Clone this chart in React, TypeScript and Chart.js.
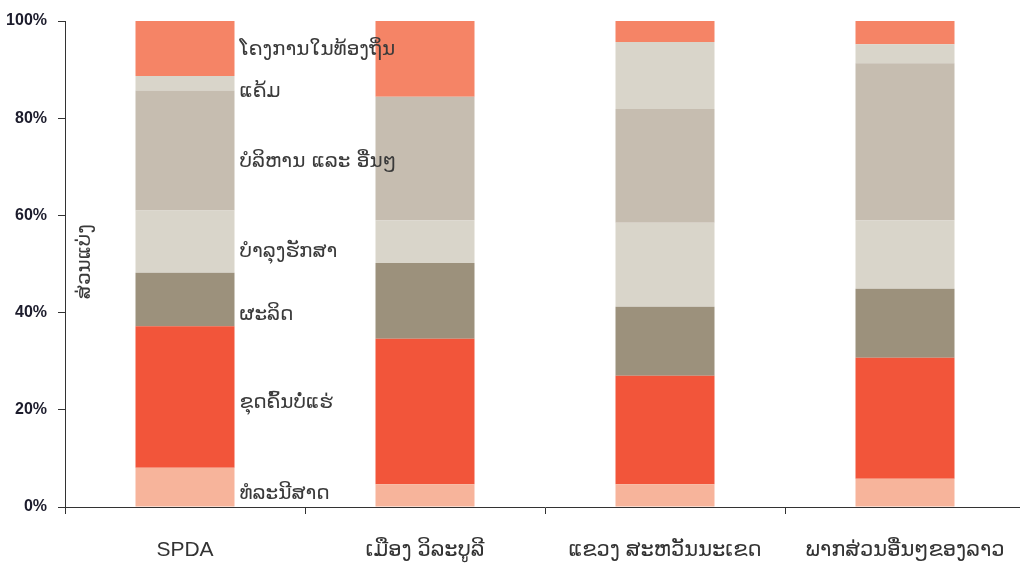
import React, { useEffect, useRef } from "react";
import { Chart, registerables } from "chart.js";

Chart.register(...registerables);

const categories = ["SPDA", "ເມືອງ ວິລະບູລີ", "ແຂວງ ສະຫວັນນະເຂດ", "ພາກສ່ວນອື່ນໆຂອງລາວ"];

const seriesNames = [
  "ທໍລະນີສາດ",
  "ຂຸດຄົ້ນບໍ່ແຮ່",
  "ຜະລິດ",
  "ບຳລຸງຮັກສາ",
  "ບໍລິຫານ ແລະ ອື່ນໆ",
  "ແຄ້ມ",
  "ໂຄງການໃນທ້ອງຖິ່ນ",
];

const geology = [8.1, 4.7, 4.7, 5.8];
const mining = [29.1, 29.9, 22.3, 24.9];
const production = [11.0, 15.6, 14.2, 14.2];
const maintenance = [12.8, 8.8, 17.3, 14.1];
const admin = [24.7, 25.4, 23.4, 32.3];
const camp = [3.0, 0, 13.8, 3.9];
const community = [11.3, 15.6, 4.3, 4.8];

const seriesValues = [geology, mining, production, maintenance, admin, camp, community];
const seriesColors = ["#f7b49b", "#f2553a", "#9c917c", "#d9d5ca", "#c6bdb0", "#d9d5ca", "#f58466"];

// label anchor heights (in % units) for the in-chart series labels next to first bar
const labelLevels = [2.7, 21.4, 39.5, 52.5, 71.0, 85.4, 94.0];

const yTicks = [0, 20, 40, 60, 80, 100];
const yTitle = "ສ່ວນແບ່ງ";

const labelPlugin = {
  id: "seriesLabels",
  afterDatasetsDraw(chart: any) {
    const ctx = chart.ctx;
    const yScale = chart.scales.y;
    ctx.save();
    ctx.fillStyle = "#3a3a3a";
    ctx.font = '20px "DejaVu Sans", sans-serif';
    ctx.textAlign = "left";
    ctx.textBaseline = "middle";
    seriesNames.forEach((name, i) => {
      const bar = chart.getDatasetMeta(i).data[0] as any;
      const x = bar.x + bar.width / 2 + 5;
      const y = yScale.getPixelForValue(labelLevels[i]);
      ctx.fillText(name, x, y);
    });
    // y axis title (inside plot area)
    const cx = chart.chartArea.left + 20;
    const cy = yScale.getPixelForValue(50.5);
    ctx.translate(cx, cy);
    ctx.rotate(-Math.PI / 2);
    ctx.textAlign = "center";
    ctx.font = '20px "DejaVu Sans", sans-serif';
    ctx.fillText(yTitle, 0, 0);
    ctx.restore();
  },
};

export default function App() {
  const ref = useRef<HTMLCanvasElement>(null);
  useEffect(() => {
    if (!ref.current) return;
    const chart = new Chart(ref.current, {
      type: "bar",
      data: {
        labels: categories,
        datasets: seriesNames.map((n, i) => ({
          label: n,
          data: seriesValues[i],
          backgroundColor: seriesColors[i],
          borderWidth: 0,
          barPercentage: 0.4125,
          categoryPercentage: 1,
        })),
      },
      options: {
        responsive: false,
        animation: false,
        devicePixelRatio: 1,
        layout: { padding: { top: 21, right: 5, bottom: 0, left: 0 } },
        plugins: {
          legend: { display: false },
          tooltip: { enabled: false },
          title: { display: false },
        },
        scales: {
          x: {
            stacked: true,
            afterFit: (s: any) => {
              s.height = 58;
            },
            grid: {
              display: true,
              drawOnChartArea: false,
              drawTicks: true,
              tickLength: 7,
              color: "#333333",
              offset: true,
            },
            border: { display: true, color: "#333333", width: 1 },
            ticks: {
              color: "#333333",
              padding: 24,
              font: { family: '"Liberation Sans", "DejaVu Sans", sans-serif', size: 21 },
              maxRotation: 0,
              autoSkip: false,
            },
          },
          y: {
            stacked: true,
            min: 0,
            max: 100,
            afterFit: (s: any) => {
              s.width = 65;
            },
            afterBuildTicks: (s: any) => {
              s.ticks = yTicks.map((v) => ({ value: v }));
            },
            grid: {
              display: true,
              drawOnChartArea: false,
              drawTicks: true,
              tickLength: 7,
              color: "#333333",
            },
            border: { display: true, color: "#333333", width: 1 },
            ticks: {
              color: "#1c1c2c",
              padding: 11,
              font: { family: '"Liberation Sans", sans-serif', size: 16, weight: "bold" },
              callback: (v: any) => v + "%",
            },
          },
        },
      },
      plugins: [labelPlugin],
    });
    return () => chart.destroy();
  }, []);
  return (
    <div style={{ position: "absolute", left: 0, top: 0, width: 1020, height: 565, overflow: "hidden", background: "#fff" }}>
      <canvas ref={ref} width={1030} height={565} style={{ display: "block" }} />
    </div>
  );
}
